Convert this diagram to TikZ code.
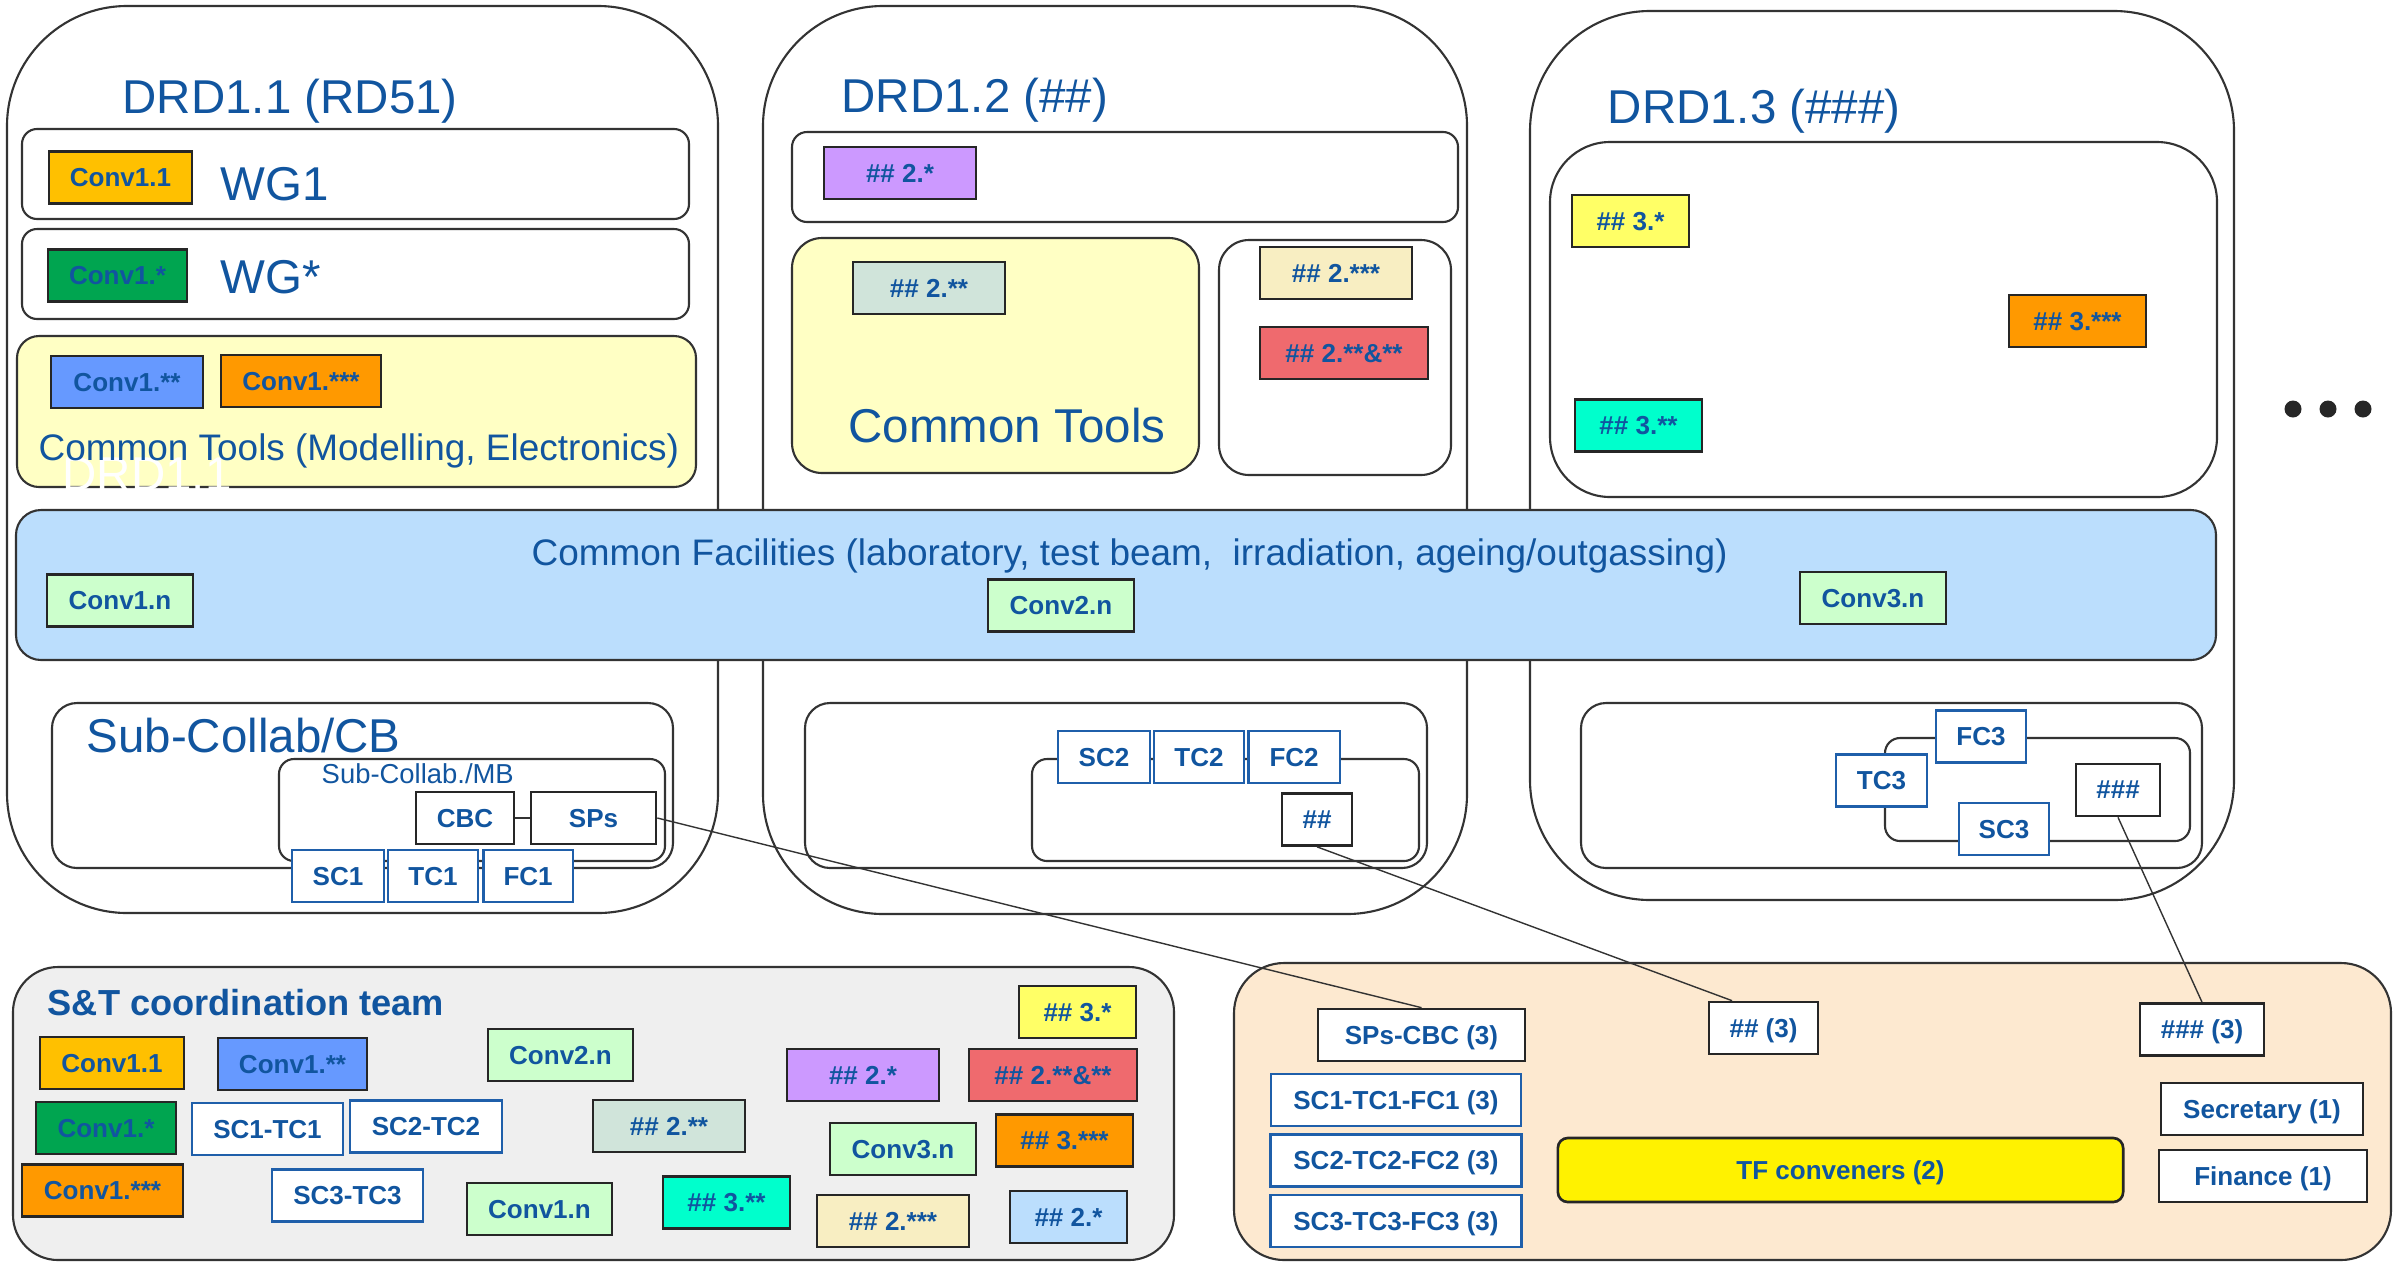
\documentclass[tikz,border=0pt]{standalone}
\usepackage{fontspec}
\setmainfont{Liberation Sans}
\usepackage{tikz}

\definecolor{drdblue}{HTML}{11559F}
\definecolor{scblue}{HTML}{1F5FAA}
\definecolor{cgold}{HTML}{FFC000}
\definecolor{cgreen}{HTML}{00A550}
\definecolor{cblue}{HTML}{6699FF}
\definecolor{corange}{HTML}{FF9900}
\definecolor{cmint}{HTML}{CCFFCC}
\definecolor{cviolet}{HTML}{CC99FF}
\definecolor{csage}{HTML}{D0E4DA}
\definecolor{ccream}{HTML}{F8EEC2}
\definecolor{cred}{HTML}{EF6A6E}
\definecolor{clemon}{HTML}{FFFF66}
\definecolor{caqua}{HTML}{00FFCC}
\definecolor{csky}{HTML}{BBDEFD}
\definecolor{toolyellow}{HTML}{FFFFC4}
\definecolor{teamgrey}{HTML}{EFEFEF}
\definecolor{tfpeach}{HTML}{FDE9D0}

\begin{document}
\begin{tikzpicture}[x=0.01cm,y=-0.01cm,
    every node/.style={text=drdblue,font=\bfseries\fontsize{7.4}{9}\selectfont,inner sep=0pt},
    conv/.style={draw=black!85,line width=0.75pt,minimum height=0.52cm,text depth=0pt},
    conn/.style={draw=scblue,fill=white,line width=0.65pt,minimum height=0.52cm,text depth=0pt},
    blk/.style={draw=black!85,fill=white,line width=0.75pt,minimum height=0.52cm,text depth=0pt},
    panel/.style={draw=black!80,line width=0.6pt},
    title/.style={anchor=base west,font=\fontsize{13.5}{16}\selectfont},
    node distance=0.95cm]
      \useasboundingbox (0,0) rectangle (2394,1263);

      % DRD1.1
      \draw[panel,rounded corners=1.2cm] (7,6) rectangle (718,913);
      \node[title] (drd1) at (122,113) {DRD1.1 (RD51)};
      \draw[panel,rounded corners=0.15cm] (22,129) rectangle (689,219);
      \draw[panel,rounded corners=0.15cm] (22,229) rectangle (689,319);
      \draw[panel,fill=toolyellow,rounded corners=0.22cm] (17,336) rectangle (696,487);
      \node[conv,fill=cgold,minimum width=1.43cm] (conv11) at (120.5,177.5) {Conv1.1};
      \node[title] (wg1) at (220,200) {WG1};
      \node[conv,fill=cgreen,minimum width=1.39cm] (conv1a) at (117.5,275.5) {Conv1.*};
      \node[title] (wgs) at (220,293) {WG*};
      \node[conv,fill=cblue,minimum width=1.52cm] (conv1b) at (127,382) {Conv1.**};
      \node[conv,fill=corange,minimum width=1.60cm] (conv1c) at (301,381) {Conv1.***};
      \node[title,text=white] (ghost) at (62,490) {DRD1.1};
      \node[title,font=\fontsize{10.5}{13}\selectfont] (tools1) at (38,460) {Common Tools (Modelling, Electronics)};

      % DRD1.2
      \draw[panel,rounded corners=1.2cm] (763,6) rectangle (1467,914);
      \node[title] (drd2) at (841,112) {DRD1.2 (\#\#)};
      \draw[panel,rounded corners=0.15cm] (792,132) rectangle (1458,222);
      \node[conv,fill=cviolet,minimum width=1.52cm] (h2a) at (900,173) {\#\# 2.*};
      \draw[panel,fill=toolyellow,rounded corners=0.3cm] (792,238) rectangle (1199,473);
      \node[conv,fill=csage,minimum width=1.52cm] (h2b) at (929,288) {\#\# 2.**};
      \node[title] (tools2) at (848,442) {Common Tools};
      \draw[panel,rounded corners=0.3cm] (1219,240) rectangle (1451,475);
      \node[conv,fill=ccream,minimum width=1.52cm] (h2c) at (1336,273) {\#\# 2.***};
      \node[conv,fill=cred,minimum width=1.68cm] (h2d) at (1344,353) {\#\# 2.**\&**};

      % DRD1.3
      \draw[panel,rounded corners=1.2cm] (1530,11) rectangle (2234,900);
      \node[title] (drd3) at (1607,123) {DRD1.3 (\#\#\#)};
      \draw[panel,rounded corners=0.6cm] (1550,142) rectangle (2217,497);
      \node[conv,fill=clemon,minimum width=1.17cm] (h3a) at (1630.5,221) {\#\# 3.*};
      \node[conv,fill=corange,minimum width=1.37cm] (h3c) at (2077.5,321) {\#\# 3.***};
      \node[conv,fill=caqua,minimum width=1.27cm] (h3b) at (1638.5,425.5) {\#\# 3.**};
      \fill[black!85] (2293,409) circle (0.085cm) (2328,409) circle (0.085cm) (2363,409) circle (0.085cm);

      % common facilities
      \draw[panel,fill=csky,rounded corners=0.25cm] (16,510) rectangle (2216,660);
      \node[title,font=\fontsize{10.5}{13}\selectfont] (facil) at (531,565)
        {Common Facilities (laboratory, test beam,~ irradiation, ageing/outgassing)};
      \node[conv,fill=cmint,minimum width=1.46cm] (conv1n) at (120,600.5) {Conv1.n};
      \node[conv,fill=cmint,minimum width=1.46cm] (conv2n) at (1061,605.5) {Conv2.n};
      \node[conv,fill=cmint,minimum width=1.46cm] (conv3n) at (1873,598) {Conv3.n};

      % sub-collaborations
      \draw[panel,rounded corners=0.25cm] (52,703) rectangle (673,868);
      \node[title] (subcb) at (86,752) {Sub-Collab/CB};
      \draw[panel,rounded corners=0.15cm] (279,759) rectangle (665,861);
      \node[title,font=\fontsize{7.8}{9}\selectfont] (submb) at (321,783) {Sub-Collab./MB};
      \node[blk,minimum width=0.98cm] (cbc) at (465,818) {CBC};
      \node[blk,minimum width=1.25cm] (sps) at (593.5,818) {SPs};
      \node[conn,minimum width=0.92cm] (sc1) at (338,876) {SC1};
      \node[conn,minimum width=0.90cm] (tc1) [right of=sc1] {TC1};
      \node[conn,minimum width=0.89cm] (fc1) [right of=tc1] {FC1};

      \draw[panel,rounded corners=0.25cm] (805,703) rectangle (1427,868);
      \draw[panel,rounded corners=0.15cm] (1032,759) rectangle (1419,861);
      \node[conn,minimum width=0.92cm] (sc2) at (1104,757) {SC2};
      \node[conn,minimum width=0.90cm] (tc2) [right of=sc2] {TC2};
      \node[conn,minimum width=0.91cm] (fc2) [right of=tc2] {FC2};
      \node[blk,minimum width=0.70cm] (hh2) at (1317,819.5) {\#\#};

      \draw[panel,rounded corners=0.25cm] (1581,703) rectangle (2202,868);
      \draw[panel,rounded corners=0.15cm] (1885,738) rectangle (2190,841);
      \node[conn,minimum width=0.90cm] (fc3) at (1981,736.5) {FC3};
      \node[conn,minimum width=0.91cm] (tc3) at (1881.5,780.5) {TC3};
      \node[conn,minimum width=0.90cm] (sc3) at (2004,829) {SC3};
      \node[blk,minimum width=0.84cm] (hhh2) at (2118,790) {\#\#\#};

      % S&T coordination team
      \draw[panel,fill=teamgrey,rounded corners=0.45cm] (13,967) rectangle (1174,1260);
      \node[title,font=\bfseries\fontsize{10.3}{12}\selectfont] (team) at (47,1015) {S\&T coordination team};
      \node[conv,fill=cgold,minimum width=1.44cm] (t11) at (112,1063) {Conv1.1};
      \node[conv,fill=cblue,minimum width=1.49cm] (t1b) at (292.5,1064) {Conv1.**};
      \node[conv,fill=cmint,minimum width=1.45cm] (t2n) at (560.5,1055) {Conv2.n};
      \node[conv,fill=cgreen,minimum width=1.40cm] (t1a) at (106,1128) {Conv1.*};
      \node[conn,minimum width=1.51cm] (tsc1) at (267.5,1129) {SC1-TC1};
      \node[conn,minimum width=1.52cm] (tsc2) at (426,1126.5) {SC2-TC2};
      \node[conv,fill=csage,minimum width=1.52cm] (t2b) at (669,1126) {\#\# 2.**};
      \node[conv,fill=corange,minimum width=1.61cm] (t1c) at (102.5,1190.5) {Conv1.***};
      \node[conn,minimum width=1.51cm] (tsc3) at (347.5,1195.5) {SC3-TC3};
      \node[conv,fill=cmint,minimum width=1.45cm] (t1n) at (539.5,1209) {Conv1.n};
      \node[conv,fill=caqua,minimum width=1.27cm] (t3b) at (726.5,1202.5) {\#\# 3.**};
      \node[conv,fill=clemon,minimum width=1.17cm] (t3a) at (1077.5,1012) {\#\# 3.*};
      \node[conv,fill=cviolet,minimum width=1.52cm] (t2a) at (863,1075) {\#\# 2.*};
      \node[conv,fill=cred,minimum width=1.68cm] (t2d) at (1053,1075) {\#\# 2.**\&**};
      \node[conv,fill=cmint,minimum width=1.46cm] (t3n) at (903,1149) {Conv3.n};
      \node[conv,fill=corange,minimum width=1.37cm] (t3c) at (1064.5,1140.5) {\#\# 3.***};
      \node[conv,fill=ccream,minimum width=1.52cm] (t2c) at (893,1221) {\#\# 2.***};
      \node[conv,fill=csky,minimum width=1.17cm] (t2e) at (1068.5,1217) {\#\# 2.*};

      % task force
      \draw[panel,fill=tfpeach,rounded corners=0.5cm] (1234,963) rectangle (2391,1260);
      \node[blk,minimum width=2.07cm] (spscbc) at (1421.5,1035) {SPs-CBC (3)};
      \node[blk,minimum width=1.09cm] (hh3) at (1763.5,1028) {\#\# (3)};
      \node[blk,minimum width=1.24cm] (hhh3) at (2202,1029.5) {\#\#\# (3)};
      \node[conn,minimum width=2.50cm] (stf1) at (1396,1100) {SC1-TC1-FC1 (3)};
      \node[conn,minimum width=2.51cm,node distance=0.605cm] (stf2) [below of=stf1] {SC2-TC2-FC2 (3)};
      \node[conn,minimum width=2.51cm,node distance=0.605cm] (stf3) [below of=stf2] {SC3-TC3-FC3 (3)};
      \node[conv,fill=yellow,rounded corners=0.1cm,minimum width=5.65cm,minimum height=0.64cm] (tfconv) at (1840.5,1170) {TF conveners (2)};
      \node[blk,minimum width=2.02cm] (secr) at (2262,1109) {Secretary (1)};
      \node[blk,minimum width=2.08cm] (fin) at (2263,1176) {Finance (1)};

      \path[black!80,line width=0.4pt]
      (sps.east) edge (spscbc.north)
      (cbc) edge (sps)
      (hh2.south) edge (hh3.139)
      (hhh2.south) edge (hhh3.north)
      ;
    \end{tikzpicture}
\end{document}
